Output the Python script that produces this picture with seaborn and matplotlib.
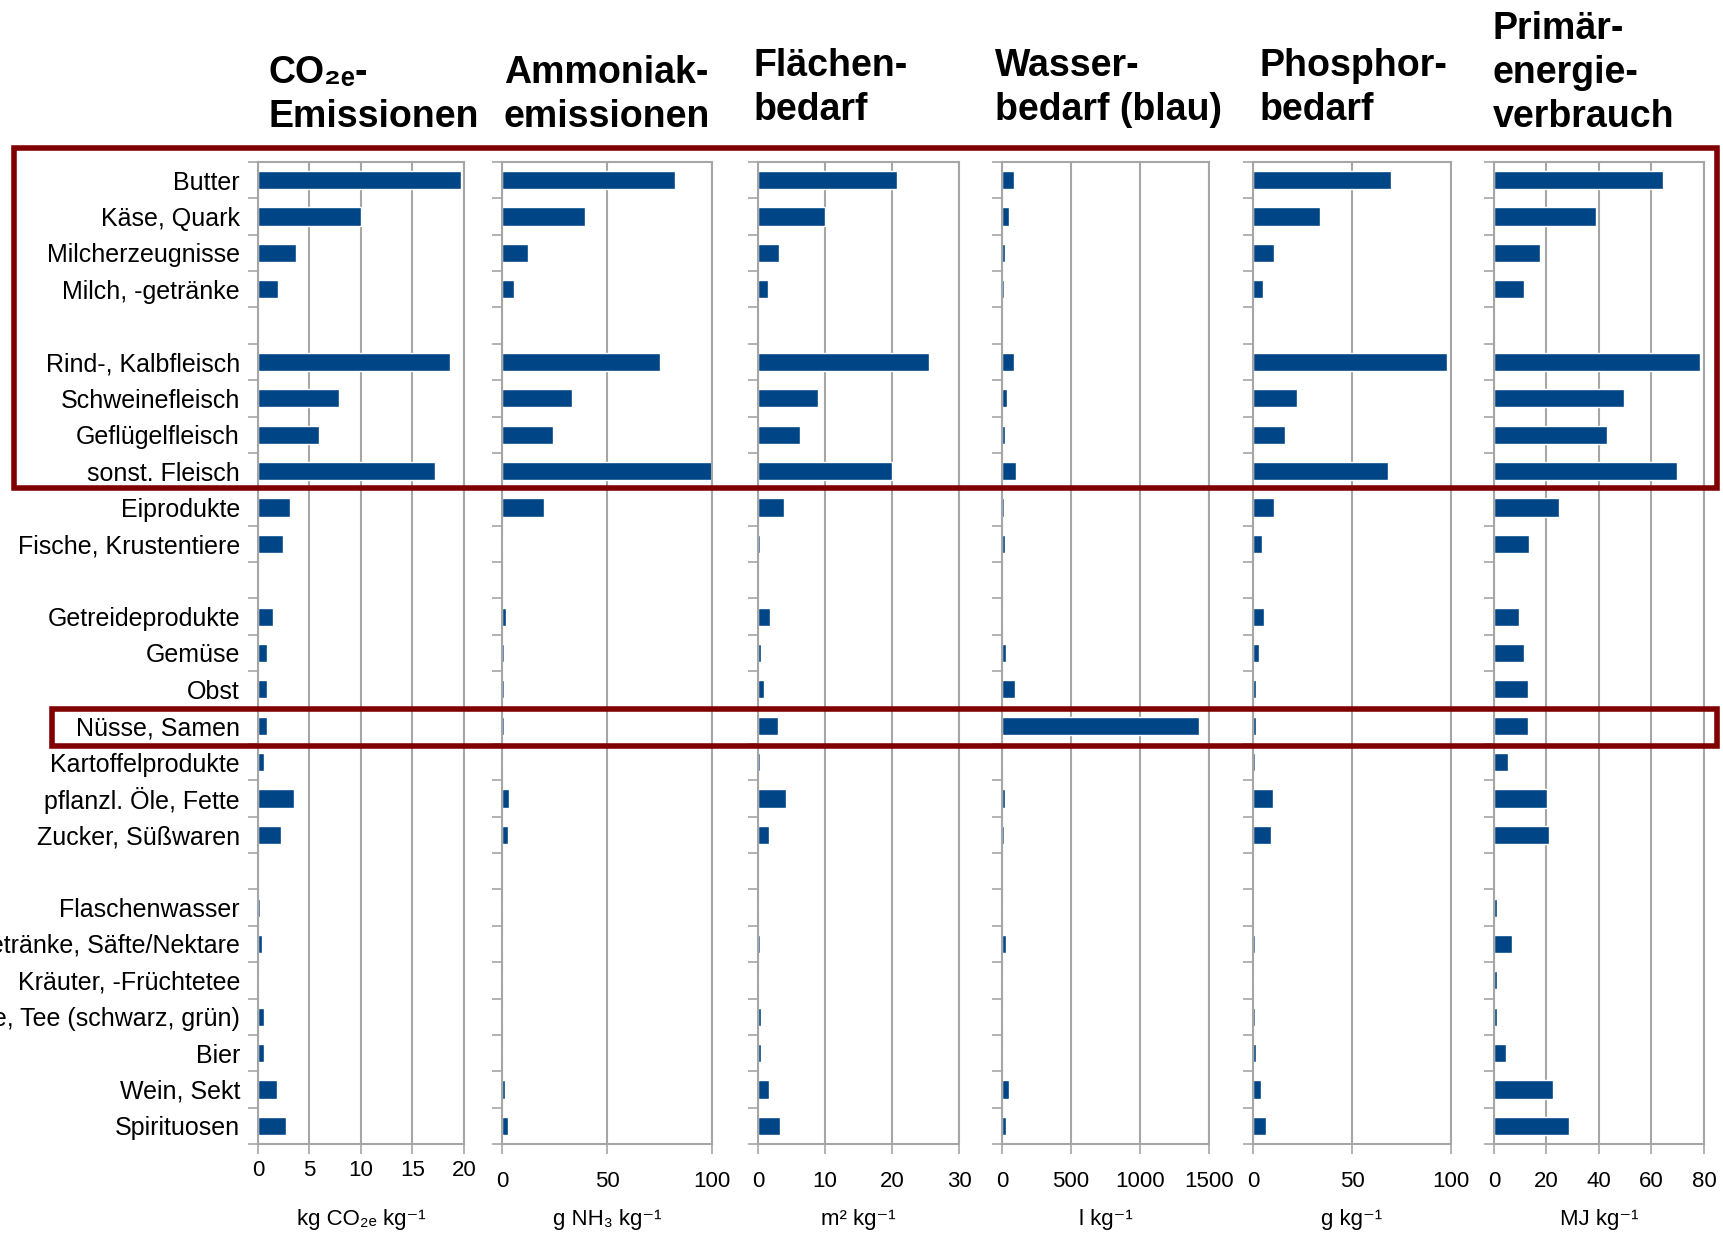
import matplotlib.pyplot as plt
import matplotlib.patches as patches
import matplotlib.ticker as ticker
import numpy as np
import pandas as pd
import seaborn as sns

sns.set_style("white")
plt.rcParams["font.family"] = ["Liberation Sans", "DejaVu Sans"]
plt.rcParams["text.color"] = "black"
plt.rcParams["xtick.labelcolor"] = "black"
plt.rcParams["ytick.labelcolor"] = "black"
plt.rcParams["axes.labelcolor"] = "black"

BLUE = "#004586"
GREY = "#a6a6a6"
DARKRED = "#800000"

# food groups, top to bottom (an empty row separates the groups)
group_dairy = ["Butter", "Käse, Quark", "Milcherzeugnisse", "Milch, -getränke"]
group_meat = ["Rind-, Kalbfleisch", "Schweinefleisch", "Geflügelfleisch",
              "sonst. Fleisch", "Eiprodukte", "Fische, Krustentiere"]
group_plant = ["Getreideprodukte", "Gemüse", "Obst", "Nüsse, Samen",
               "Kartoffelprodukte", "pflanzl. Öle, Fette", "Zucker, Süßwaren"]
group_drinks = ["Flaschenwasser", "Erfrischungsgetränke, Säfte/Nektare",
                "Kräuter, -Früchtetee", "Kaffee, Tee (schwarz, grün)", "Bier",
                "Wein, Sekt", "Spirituosen"]
groups = [group_dairy, group_meat, group_plant, group_drinks]

# values per kg product, same order as the groups above
co2 = [19.7, 10.0, 3.7, 1.9, 18.6, 7.9, 5.9, 17.2, 3.1, 2.4,
       1.5, 0.9, 0.9, 0.9, 0.6, 3.5, 2.2,
       0.2, 0.4, 0.1, 0.6, 0.6, 1.8, 2.7]
ammoniak = [82.4, 39.5, 12.4, 5.7, 75.2, 33.3, 24.3, 100.0, 20.0, 0.5,
            1.9, 1.0, 1.0, 1.0, 0.3, 3.3, 2.9,
            0.3, 0.3, 0.3, 0.3, 0.3, 1.4, 2.9]
flaeche = [20.7, 10.0, 3.1, 1.5, 25.5, 9.0, 6.3, 20.0, 3.9, 0.3,
           1.8, 0.45, 0.9, 3.0, 0.3, 4.2, 1.6,
           0.1, 0.3, 0.1, 0.45, 0.45, 1.6, 3.3]
wasser = [86, 50, 22, 14, 86, 36, 22, 101, 14, 22,
          7, 29, 94, 1426, 7, 22, 14,
          7, 29, 7, 7, 7, 50, 29]
phosphor = [69.8, 33.9, 10.6, 5.1, 98.1, 22.3, 16.2, 68.3, 10.6, 4.6,
            5.6, 3.0, 1.5, 1.5, 1.0, 10.1, 9.1,
            0.0, 1.0, 0.3, 1.0, 1.5, 4.0, 6.6]
energie = [64.3, 38.8, 17.5, 11.4, 78.3, 49.4, 43.0, 69.6, 24.7, 13.3,
           9.5, 11.4, 12.9, 12.9, 5.3, 20.2, 20.9,
           1.1, 6.8, 1.1, 1.1, 4.6, 22.4, 28.5]

titles = ["CO₂ₑ-\nEmissionen", "Ammoniak-\nemissionen", "Flächen-\nbedarf",
          "Wasser-\nbedarf (blau)", "Phosphor-\nbedarf", "Primär-\nenergie-\nverbrauch"]
units = ["kg CO₂ₑ kg⁻¹", "g NH₃ kg⁻¹", "m² kg⁻¹", "l kg⁻¹", "g kg⁻¹", "MJ kg⁻¹"]
x_max = [20, 100, 30, 1500, 100, 80]
x_step = [5, 50, 10, 500, 50, 20]
series = [co2, ammoniak, flaeche, wasser, phosphor, energie]

# row slots with a blank slot between groups
categories, slots = [], []
pos = 0
for g in groups:
    for c in g:
        categories.append(c)
        slots.append(pos)
        pos += 1
    pos += 1
n_slots = pos - 1

W, H = 1724, 1236
fig = plt.figure(figsize=(W / 100, H / 100), dpi=100)

# pixel layout of the panels
panel_x = [(258, 464), (502, 712), (758, 959), (1002, 1209), (1253, 1451), (1494, 1704)]
top_px, bottom_px = 162, 1144
title_pos = [(269, 55), (504, 55), (754, 48), (995, 48), (1260, 48), (1493, 11)]
tick_pad = [4, 12, 12, 12, 12, 12]

for i, vals in enumerate(series):
    x0, x1 = panel_x[i]
    ax = fig.add_axes([x0 / W, 1 - bottom_px / H, (x1 - x0) / W, (bottom_px - top_px) / H])
    df = pd.DataFrame({"row": slots, "value": vals, "food": categories})
    sns.barplot(data=df, x="value", y="row", orient="h", native_scale=True,
                color=BLUE, saturation=1, width=0.5, errorbar=None, ax=ax)
    ax.set_xlim(0, x_max[i])
    ax.set_ylim(n_slots - 0.5, -0.5)
    ax.xaxis.set_major_locator(ticker.MultipleLocator(x_step[i]))
    ax.set_yticks(np.arange(-0.5, n_slots, 1.0))
    ax.set_yticklabels([])
    ax.set_yticks(slots, minor=True)
    if i == 0:
        ax.set_yticklabels(categories, minor=True, fontsize=18)
    else:
        ax.set_yticklabels([], minor=True)
    ax.tick_params(axis="y", which="major", direction="out", length=7.5,
                   width=1.2, color=GREY, left=True)
    ax.tick_params(axis="y", which="minor", length=0, pad=13, left=True)
    ax.tick_params(axis="x", which="major", direction="out", length=7.5,
                   width=1.2, color=GREY, bottom=True, pad=tick_pad[i],
                   labelsize=16)
    ax.grid(axis="x", color=GREY, linewidth=1.5)
    ax.grid(axis="y", visible=False)
    ax.set_axisbelow(True)
    for sp in ax.spines.values():
        sp.set_visible(True)
        sp.set_color(GREY)
        sp.set_linewidth(1.5)
    ax.set_ylabel("")
    ax.set_xlabel(units[i], fontsize=16, va="center")
    ax.xaxis.set_label_coords(0.5, -(1220 - bottom_px) / (bottom_px - top_px))

    tx, ty = title_pos[i]
    fig.text(tx / W, 1 - ty / H, titles[i], fontsize=27, fontweight="bold",
             ha="left", va="top", linespacing=1.28)

# highlight boxes
for (bx0, by0, bx1, by1) in [(14, 148, 1717, 488), (52, 709, 1717, 746)]:
    fig.add_artist(patches.Rectangle((bx0 / W, 1 - by1 / H), (bx1 - bx0) / W,
                                     (by1 - by0) / H, transform=fig.transFigure,
                                     fill=False, edgecolor=DARKRED, linewidth=4))

fig.savefig("out.png", dpi=100)
